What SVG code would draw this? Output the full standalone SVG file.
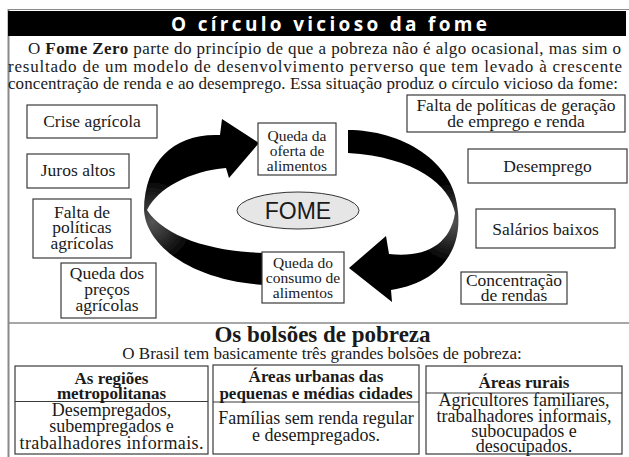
<svg xmlns="http://www.w3.org/2000/svg" width="629" height="457" viewBox="0 0 629 457">
<defs>
<style>
.box{fill:#fff;stroke:#3a3a3a;stroke-width:1.2}
.t{font-size:17.5px;fill:#1a1a1a;text-anchor:middle}
.s{font-size:15.5px}
.b{font-weight:bold;font-size:17px}
.body{font-size:18px}
.p{font-size:17px;fill:#1a1a1a}
.arrow{filter:url(#soft)}
.rule{stroke:#8a8a8a;fill:none}
</style>
<filter id="soft" x="-5%" y="-5%" width="110%" height="110%"><feGaussianBlur stdDeviation="0.7"/></filter>
<radialGradient id="gl" gradientUnits="userSpaceOnUse" cx="152" cy="222" r="40"><stop offset="0" stop-color="#555"/><stop offset="1" stop-color="#050505"/></radialGradient>
<radialGradient id="gr" gradientUnits="userSpaceOnUse" cx="452" cy="222" r="38"><stop offset="0" stop-color="#555"/><stop offset="1" stop-color="#050505"/></radialGradient>
</defs>
<rect width="629" height="457" fill="#fff"/>
<line class="rule" x1="8" y1="9.5" x2="629" y2="9.5" stroke-width="1"/>
<line class="rule" x1="8.5" y1="9" x2="8.5" y2="457" stroke-width="2"/>
<line class="rule" x1="9" y1="323" x2="629" y2="323" stroke-width="1.5"/>
<rect x="8" y="11" width="618" height="25" fill="#000"/>
<text x="329" y="30.5" font-family="'Open Sans','DejaVu Sans',sans-serif" font-weight="bold" font-size="19" fill="#fff" text-anchor="middle" textLength="316" lengthAdjust="spacing">O círculo vicioso da fome</text>
<g font-family="'Liberation Serif','Times New Roman','DejaVu Serif',serif">
<text class="p" x="28" y="54" textLength="593" lengthAdjust="spacing">O <tspan font-weight="bold">Fome Zero</tspan> parte do princípio de que a pobreza não é algo ocasional, mas sim o</text>
<text class="p" x="8" y="71.5" textLength="614" lengthAdjust="spacing">resultado de um modelo de desenvolvimento perverso que tem levado à crescente</text>
<text class="p" x="8" y="89" textLength="610" lengthAdjust="spacing">concentração de renda e ao desemprego. Essa situação produz o círculo vicioso da fome:</text>
</g>
<g id="connectors">
<path id="arrow-left" class="arrow" fill="url(#gl)" d="M 264 253 C 215 252, 165 238, 147 210 C 158 188, 190 171, 226 168 L 229 178 L 259 143 L 222 119 L 220 135 C 175 133, 145 160, 144 210 C 146 245, 190 280, 264 285 Z"/>
<path id="arrow-right" class="arrow" fill="url(#gr)" d="M 348 130 C 400 130, 455 160, 458 212 C 462 252, 438 283, 391 290 L 392 302 L 349 268 L 386 236 L 389 254 C 425 258, 450 245, 455 213 C 450 185, 415 157, 348 153 Z"/>
</g>
<g font-family="'Liberation Serif','Times New Roman','DejaVu Serif',serif">
<g id="n-crise"><rect class="box" x="27" y="105" width="130" height="33"/><text class="t" x="92" y="127">Crise agrícola</text></g>
<g id="n-juros"><rect class="box" x="27" y="154" width="102" height="34"/><text class="t" x="78" y="176">Juros altos</text></g>
<g id="n-falta-agricolas"><rect class="box" x="33" y="199" width="98" height="59"/><text class="t" x="82" y="217.5">Falta de</text><text class="t" x="82" y="233">políticas</text><text class="t" x="82" y="249">agrícolas</text></g>
<g id="n-queda-precos"><rect class="box" x="61" y="263" width="95" height="55"/><text class="t" x="107" y="279">Queda dos</text><text class="t" x="107" y="295">preços</text><text class="t" x="107" y="310.5">agrícolas</text></g>
<g id="n-oferta"><rect class="box" x="258" y="123" width="78" height="52"/><text class="t s" x="297" y="141">Queda da</text><text class="t s" x="297" y="156">oferta de</text><text class="t s" x="297" y="170.5">alimentos</text></g>
<g id="n-consumo"><rect class="box" x="262" y="252" width="82" height="51"/><text class="t s" x="303" y="268">Queda do</text><text class="t s" x="303" y="283">consumo de</text><text class="t s" x="303" y="298">alimentos</text></g>
<g id="n-fome"><ellipse cx="298" cy="210.5" rx="61" ry="18.5" fill="#e6e6e6" stroke="#333" stroke-width="1"/><text x="298" y="218.5" font-family="'Liberation Sans',Arial,sans-serif" font-size="23" fill="#1a1a1a" text-anchor="middle">FOME</text></g>
<g id="n-falta-emprego"><rect class="box" x="407" y="95" width="218" height="37"/><text class="t" x="516" y="111">Falta de políticas de geração</text><text class="t" x="516" y="126.5">de emprego e renda</text></g>
<g id="n-desemprego"><rect class="box" x="468" y="149" width="159" height="34"/><text class="t" x="547.5" y="172">Desemprego</text></g>
<g id="n-salarios"><rect class="box" x="476" y="209" width="139" height="39"/><text class="t" x="545.5" y="235">Salários baixos</text></g>
<g id="n-concentracao"><rect class="box" x="461" y="272" width="106" height="32"/><text class="t" x="514" y="286">Concentração</text><text class="t" x="514" y="300.5">de rendas</text></g>
<text class="t" x="322.5" y="342" style="font-weight:bold;font-size:23px">Os bolsões de pobreza</text>
<text class="t" x="322" y="359" style="font-size:17px">O Brasil tem basicamente três grandes bolsões de pobreza:</text>
<g id="n-metropolitanas"><rect class="box" x="15" y="366" width="193" height="88"/><line x1="15" y1="401.5" x2="208" y2="401.5" stroke="#3a3a3a" stroke-width="1.2"/><text class="t b" x="111.5" y="384">As regiões</text><text class="t b" x="111.5" y="399">metropolitanas</text><text class="t body" x="111.5" y="415.5">Desempregados,</text><text class="t body" x="111.5" y="432">subempregados e</text><text class="t body" x="111.5" y="448.5" textLength="184" lengthAdjust="spacing">trabalhadores informais.</text></g>
<g id="n-urbanas"><rect class="box" x="213" y="365" width="206" height="89"/><line x1="213" y1="402" x2="419" y2="402" stroke="#3a3a3a" stroke-width="1.2"/><text class="t b" x="316" y="382">Áreas urbanas das</text><text class="t b" x="316" y="398.5">pequenas e médias cidades</text><text class="t body" x="316" y="424">Famílias sem renda regular</text><text class="t body" x="316" y="440.5">e desempregados.</text></g>
<g id="n-rurais"><rect class="box" x="426" y="366" width="196" height="88"/><line x1="426" y1="393" x2="622" y2="393" stroke="#3a3a3a" stroke-width="1.2"/><text class="t b" x="524" y="387.5">Áreas rurais</text><text class="t body" x="524" y="406">Agricultores familiares,</text><text class="t body" x="524" y="421.5">trabalhadores informais,</text><text class="t body" x="524" y="437">subocupados e</text><text class="t body" x="524" y="451.5">desocupados.</text></g>
</g>
</svg>
